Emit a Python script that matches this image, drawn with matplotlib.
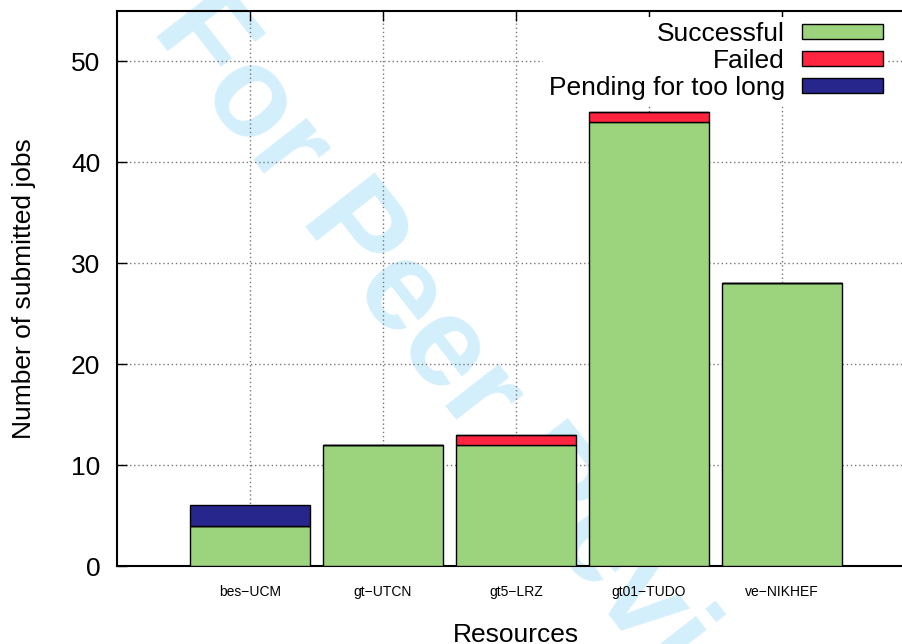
import matplotlib
matplotlib.use("Agg")
import matplotlib.pyplot as plt
import matplotlib.patches as mpatches
import numpy as np

plt.rcParams['font.family'] = ['Liberation Sans', 'DejaVu Sans']

# jobs per grid resource
resources = ['bes\u2212UCM', 'gt\u2212UTCN', 'gt5\u2212LRZ', 'gt01\u2212TUDO', 've\u2212NIKHEF']
successful = [4, 12, 12, 44, 28]
failed = [0, 0, 1, 1, 0]
pending = [2, 0, 0, 0, 0]

GREEN = '#9BD47D'
RED = '#FF2540'
NAVY = '#26268C'

fig = plt.figure(figsize=(9.02, 6.44), dpi=100)

# review watermark, under everything else
fig.text(0.1674, 0.955, 'For Peer Review', rotation=-52, rotation_mode='anchor',
         ha='left', va='baseline', fontsize=92, fontweight='bold',
         color='#D4EFFC', zorder=0)

ax = fig.add_axes([0.1297, 0.1211, 0.8847, 0.8618])
ax.set_facecolor('none')
ax.set_zorder(1)

x = np.arange(len(resources))
w = 0.9
succ = np.array(successful)
fail = np.array(failed)
pend = np.array(pending)

ax.bar(x, succ, w, color=GREEN, edgecolor='black', linewidth=1, zorder=3)
ax.bar(x, fail, w, bottom=succ, color=RED, edgecolor='black', linewidth=1, zorder=3)
ax.bar(x, pend, w, bottom=succ + fail, color=NAVY, edgecolor='black', linewidth=1, zorder=3)

ax.set_xlim(-1, 5)
ax.set_ylim(0, 55)
ax.set_xticks(x)
ax.set_xticklabels(resources, fontsize=10)
ax.set_yticks(np.arange(0, 51, 10))
ax.tick_params(axis='y', direction='in', length=7, width=1, labelsize=19, pad=12)
ax.tick_params(axis='x', direction='in', length=7, width=1, pad=14,
               top=True, bottom=False)

ax.grid(True, linestyle=(0, (1, 2)), color='#777777', linewidth=1, zorder=1)
for s in ax.spines.values():
    s.set_linewidth(1.5)

ax.set_xlabel('Resources', fontsize=19, labelpad=17)
ax.set_ylabel('Number of submitted jobs', fontsize=19, labelpad=25)

handles = [mpatches.Patch(facecolor=GREEN, edgecolor='black', label='Successful'),
           mpatches.Patch(facecolor=RED, edgecolor='black', label='Failed'),
           mpatches.Patch(facecolor=NAVY, edgecolor='black', label='Pending for too long')]
leg = ax.legend(handles=handles, loc='upper right', bbox_to_anchor=(0.966, 0.99),
                fontsize=19, markerfirst=False, frameon=True, fancybox=False,
                handlelength=3.07, handleheight=0.53, handletextpad=0.64,
                labelspacing=0.11, borderpad=0.2, borderaxespad=0)
leg.get_frame().set_facecolor('white')
leg.get_frame().set_edgecolor('none')
leg.get_frame().set_alpha(1)
leg.set_zorder(5)

fig.savefig('out.png', dpi=100)
